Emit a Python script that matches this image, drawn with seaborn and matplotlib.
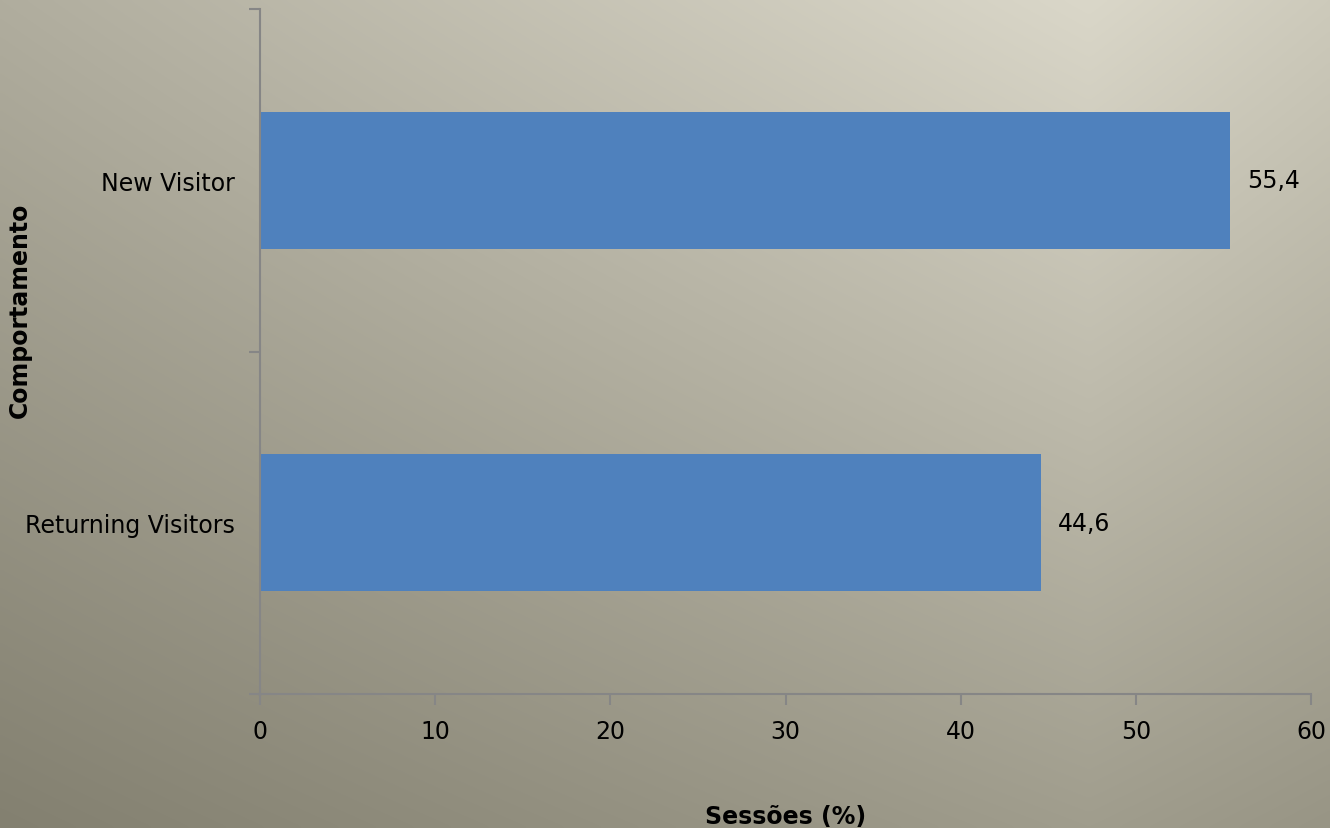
import numpy as np
import pandas as pd
import seaborn as sns
import matplotlib.pyplot as plt

# data
categories = ['New Visitor', 'Returning Visitors']
sessions_pct = [55.4, 44.6]
x_ticks = [0, 10, 20, 30, 40, 50, 60]

df = pd.DataFrame({'Comportamento': categories, 'Sessoes': sessions_pct})

sns.set_style('white')
plt.rcParams['font.family'] = ['DejaVu Sans']
plt.rcParams['text.color'] = 'black'
plt.rcParams['axes.labelcolor'] = 'black'

fig = plt.figure(figsize=(13.3, 8.29), dpi=100)

# gradient background (light near top right, darker toward bottom left)
bg = fig.add_axes([0, 0, 1, 1], zorder=0)
xs = np.array([0.0, 0.82, 1.0])
top = np.array([[176, 173, 158], [218, 215, 201], [205, 202, 187]]) / 255
bot = np.array([[131, 128, 112], [160, 157, 141], [152, 149, 133]]) / 255
gx = np.linspace(0, 1, 400)
gy = np.linspace(0, 1, 250)[:, None, None]
top_row = np.stack([np.interp(gx, xs, top[:, c]) for c in range(3)], axis=-1)
bot_row = np.stack([np.interp(gx, xs, bot[:, c]) for c in range(3)], axis=-1)
grad = top_row[None, :, :] * (1 - gy) + bot_row[None, :, :] * gy
bg.imshow(grad, aspect='auto', extent=[0, 1, 0, 1], origin='upper', interpolation='bicubic')
bg.axis('off')

# plot area: x 260..1311 px, y 10..695 px
ax = fig.add_axes([260 / 1330, 1 - 695 / 829, (1311 - 260) / 1330, (695 - 10) / 829], zorder=1)
ax.patch.set_alpha(0)

sns.barplot(data=df, x='Sessoes', y='Comportamento', orient='h', color='#4f81bd',
            width=0.4, saturation=1, linewidth=0, edgecolor='none', ax=ax)

ax.bar_label(ax.containers[0], labels=[f'{v:.1f}'.replace('.', ',') for v in sessions_pct],
             padding=12, fontsize=17, color='black')

ax.set_xlim(0, 60)
ax.set_ylim(1.5, -0.5)
ax.set_xticks(x_ticks)
ax.set_xticklabels([str(t) for t in x_ticks], fontsize=17)
ax.set_yticks([0, 1])
ax.set_yticklabels(categories, fontsize=17)
ax.set_yticks([-0.5, 0.5, 1.5], minor=True)
ax.tick_params(axis='y', which='major', left=True, length=0, pad=18, labelcolor='black')
ax.tick_params(axis='y', which='minor', left=True, length=8, width=1.5, color='#868686', direction='out')
ax.tick_params(axis='x', bottom=True, length=8, width=1.5, color='#868686', direction='out',
               pad=10, labelcolor='black')

for side in ['top', 'right']:
    ax.spines[side].set_visible(False)
for side in ['left', 'bottom']:
    ax.spines[side].set_color('#868686')
    ax.spines[side].set_linewidth(1.5)

ax.set_xlabel('Sessões (%)', fontsize=17, fontweight='bold', labelpad=44)
ax.set_ylabel('Comportamento', fontsize=17, fontweight='bold')
ax.yaxis.set_label_coords(-228 / 1051, (695 - 310) / 685)

fig.savefig('out.png', dpi=100)
